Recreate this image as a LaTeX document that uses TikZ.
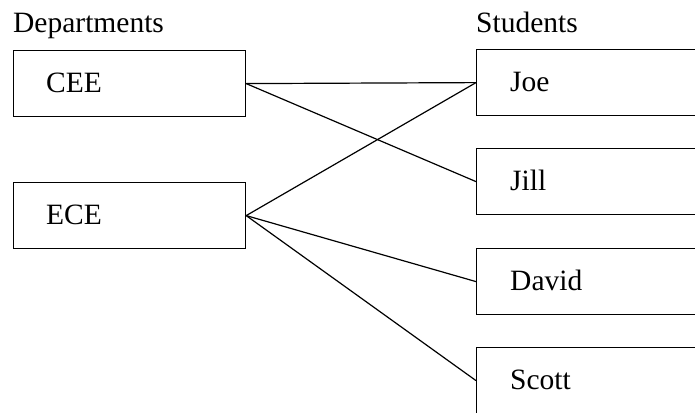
\documentclass[tikz,border=0pt]{standalone}
\usepackage{fontspec}
\setmainfont{Liberation Serif}
\begin{document}
\begin{tikzpicture}[x=1pt,y=-1pt,
  box/.style={draw, line width=1.2pt, minimum width=232pt, minimum height=66pt, inner sep=0pt, anchor=north west},
  lbl/.style={anchor=base west, inner sep=0pt, font=\fontsize{29.5}{34}\selectfont},
  link/.style={line width=1.2pt}]
\useasboundingbox (0,0) rectangle (695,412);
\clip (0,0) rectangle (695,412);
\node[lbl] (hdep) at (13,33) {Departments};
\node[lbl] (hstu) at (476,33) {Students};
\node[box] (cee) at (13,50) {};
\node[box] (ece) at (13,182) {};
\node[box] (joe) at (476,49) {};
\node[box] (jill) at (476,148) {};
\node[box] (david) at (476,248) {};
\node[box] (scott) at (476,347) {};
\node[lbl] (tcee) at (46,92) {CEE};
\node[lbl] (tece) at (46,224) {ECE};
\node[lbl] (tjoe) at (510,91) {Joe};
\node[lbl] (tjill) at (510,190) {Jill};
\node[lbl] (tdavid) at (510,290) {David};
\node[lbl] (tscott) at (510,389) {Scott};
\draw[link] (cee.east) -- (joe.west);
\draw[link] (cee.east) -- (jill.west);
\draw[link] (ece.east) -- (joe.west);
\draw[link] (ece.east) -- (david.west);
\draw[link] (ece.east) -- (scott.west);
\end{tikzpicture}
\end{document}
